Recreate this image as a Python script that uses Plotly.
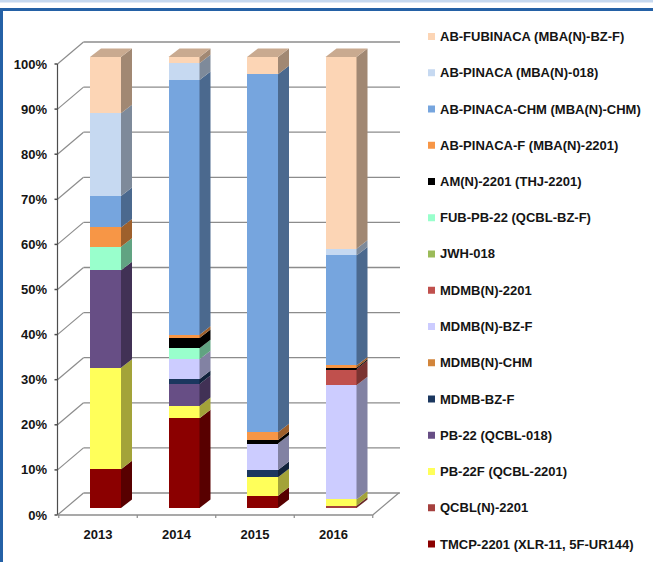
import plotly.graph_objects as go

# ---------------------------------------------------------------- data
years = ["2013", "2014", "2015", "2016"]

compounds = [
    "AB-FUBINACA (MBA(N)-BZ-F)",
    "AB-PINACA (MBA(N)-018)",
    "AB-PINACA-CHM (MBA(N)-CHM)",
    "AB-PINACA-F (MBA(N)-2201)",
    "AM(N)-2201 (THJ-2201)",
    "FUB-PB-22 (QCBL-BZ-F)",
    "JWH-018",
    "MDMB(N)-2201",
    "MDMB(N)-BZ-F",
    "MDMB(N)-CHM",
    "MDMB-BZ-F",
    "PB-22 (QCBL-018)",
    "PB-22F (QCBL-2201)",
    "QCBL(N)-2201",
    "TMCP-2201 (XLR-11, 5F-UR144)",
]

# share of each compound per year, in % (2013, 2014, 2015, 2016)
ab_fubinaca = [12.5, 1.4, 3.8, 42.5]
ab_pinaca = [18.3, 3.7, 0.0, 1.5]
ab_pinaca_chm = [7.0, 56.5, 79.4, 24.4]
ab_pinaca_f = [4.3, 0.7, 1.7, 0.5]
am_n_2201 = [0.0, 2.3, 0.8, 0.3]
fub_pb_22 = [5.2, 2.4, 0.0, 0.0]
jwh_018 = [0.0, 0.0, 0.0, 0.0]
mdmb_n_2201 = [0.0, 0.0, 0.0, 3.6]
mdmb_n_bz_f = [0.0, 4.4, 5.9, 25.3]
mdmb_n_chm = [0.0, 0.0, 0.0, 0.0]
mdmb_bz_f = [0.0, 1.1, 1.6, 0.0]
pb_22 = [21.6, 4.9, 0.0, 0.0]
pb_22f = [22.5, 2.7, 4.1, 1.4]
qcbl_n_2201 = [0.0, 0.0, 0.0, 0.5]
tmcp_2201 = [8.6, 19.9, 2.7, 0.0]

y_ticks = [0, 10, 20, 30, 40, 50, 60, 70, 80, 90, 100]
y_tick_labels = [f"{v}%" for v in y_ticks]

colors = [
    "#FCD5B5", "#C6D9F1", "#76A5DE", "#F79646", "#000000",
    "#99FFCC", "#9BBB59", "#C0504D", "#CCCCFF", "#D2853B",
    "#1B375F", "#674E85", "#FFFF5A", "#A5403E", "#8B0000",
]

shares = [
    ab_fubinaca, ab_pinaca, ab_pinaca_chm, ab_pinaca_f, am_n_2201,
    fub_pb_22, jwh_018, mdmb_n_2201, mdmb_n_bz_f, mdmb_n_chm,
    mdmb_bz_f, pb_22, pb_22f, qcbl_n_2201, tmcp_2201,
]

# ---------------------------------------------------------------- geometry
W, H = 653, 562
PL, PR, PT, PB = 48, 410, 25, 525          # plot area in pixels
SX = 78.5                                  # pixels per category
SY = 4.51                                  # pixels per percent
FRONT_X0, FRONT_Y0 = 98.0, 515.0           # front plane: first category / 0 %
BAR_DX, BAR_DY = 7.5, 7.0                  # bars sit a little behind the front plane
WALL_DX, WALL_DY = 26.0, 22.0              # back wall depth
SIDE_DX, SIDE_DY = 11.0, 8.5               # visible depth of each column
BAR_W = 31.0 / SX
AXIS_PX = 57.5                             # front vertical axis
WALL_RIGHT_PX = 400.0

BAR_X0 = FRONT_X0 + BAR_DX
BAR_Y0 = FRONT_Y0 - BAR_DY

x_range = [(PL - BAR_X0) / SX, (PR - BAR_X0) / SX]
y_range = [(BAR_Y0 - PB) / SY, (BAR_Y0 - PT) / SY]
x2_range = [v + BAR_DX / SX for v in x_range]
y2_range = [v + BAR_DY / SY for v in y_range]


def bx(px):
    return (px - BAR_X0) / SX


def front_y(v):
    return v - BAR_DY / SY


def wall_y(v):
    return front_y(v) + WALL_DY / SY


def front_x(c):
    return c - BAR_DX / SX


def paper_x(px):
    return (px - PL) / (PR - PL)


def paper_y(py):
    return (PB - py) / (PB - PT)


def shade(hex_color, f):
    h = hex_color.lstrip("#")
    r, g, b = (int(h[i:i + 2], 16) for i in (0, 2, 4))
    return "rgb({},{},{})".format(int(r * f), int(g * f), int(b * f))


xpos = list(range(len(years)))

fig = go.Figure()

# stacked columns: bottom of the stack is the last legend entry
for name, vals, col in reversed(list(zip(compounds, shares, colors))):
    fig.add_trace(go.Bar(
        x=xpos, y=vals, width=BAR_W, name=name,
        marker=dict(color=col, line=dict(width=0)),
        customdata=years, showlegend=False,
        hovertemplate="%{customdata}<br>" + name + ": %{y:.1f}%<extra></extra>",
    ))

# carrier for the front-plane axes (labels only)
fig.add_trace(go.Scatter(x=[0], y=[0], xaxis="x2", yaxis="y2", mode="markers",
                         marker=dict(opacity=0), hoverinfo="skip", showlegend=False))

shapes = []
GRID = "#8C8C8C"
AXIS = "#4D4D4D"

# back wall gridlines and the diagonals joining them to the front axis
wall_left = bx(AXIS_PX + WALL_DX)
for v in y_ticks:
    shapes.append(dict(type="line", xref="x", yref="y", layer="below",
                       x0=wall_left, x1=bx(WALL_RIGHT_PX), y0=wall_y(v), y1=wall_y(v),
                       line=dict(color=GRID, width=1.3)))
    shapes.append(dict(type="line", xref="x", yref="y", layer="below",
                       x0=bx(AXIS_PX), x1=wall_left, y0=front_y(v), y1=wall_y(v),
                       line=dict(color=GRID, width=1.2)))
    shapes.append(dict(type="line", xref="x", yref="y", layer="below",
                       x0=bx(AXIS_PX - 3), x1=bx(AXIS_PX), y0=front_y(v), y1=front_y(v),
                       line=dict(color=AXIS, width=1.5)))

# front vertical axis
shapes.append(dict(type="line", xref="x", yref="y", layer="below",
                   x0=bx(AXIS_PX), x1=bx(AXIS_PX), y0=front_y(0), y1=front_y(100),
                   line=dict(color=AXIS, width=1.2)))

# front floor edge with category separators and the right-hand depth edge
floor_end = front_x(len(years) - 0.5)
shapes.append(dict(type="line", xref="x", yref="y", layer="below",
                   x0=bx(AXIS_PX), x1=floor_end, y0=front_y(0), y1=front_y(0),
                   line=dict(color=GRID, width=1.3)))
shapes.append(dict(type="line", xref="x", yref="y", layer="below",
                   x0=floor_end, x1=floor_end + WALL_DX / SX, y0=front_y(0), y1=wall_y(0),
                   line=dict(color=GRID, width=1.2)))
for k in range(len(years) + 1):
    xb = front_x(k - 0.5)
    shapes.append(dict(type="line", xref="x", yref="y", layer="below",
                       x0=xb, x1=xb, y0=front_y(0), y1=front_y(0) - 3 / SY,
                       line=dict(color=GRID, width=1.2)))

# column depth: right-hand side of every segment and the lid of each column
ddx = SIDE_DX / SX
ddy = SIDE_DY / SY
stack = list(reversed(list(zip(shares, colors))))
for i in xpos:
    base = 0.0
    top_col = None
    for vals, col in stack:
        v = vals[i]
        if v <= 0:
            continue
        xr = i + BAR_W / 2
        path = "M{a},{b} L{c},{d} L{c},{e} L{a},{f} Z".format(
            a=xr, b=base, c=xr + ddx, d=base + ddy, e=base + v + ddy, f=base + v)
        shapes.append(dict(type="path", xref="x", yref="y", layer="above", path=path,
                           fillcolor=shade(col, 0.64), line=dict(width=0)))
        base += v
        top_col = col
    if top_col is not None:
        xl = i - BAR_W / 2
        xr = i + BAR_W / 2
        path = "M{a},{t} L{b},{t} L{c},{u} L{d},{u} Z".format(
            a=xl, b=xr, c=xr + ddx, d=xl + ddx, t=base, u=base + ddy)
        shapes.append(dict(type="path", xref="x", yref="y", layer="above", path=path,
                           fillcolor=shade(top_col, 0.8), line=dict(width=0)))

# outer frame
shapes.append(dict(type="rect", xref="paper", yref="paper", layer="above",
                   x0=paper_x(0), x1=paper_x(W), y0=paper_y(0), y1=paper_y(2.5),
                   fillcolor="#C5D8EF", line=dict(width=0)))
shapes.append(dict(type="rect", xref="paper", yref="paper", layer="above",
                   x0=paper_x(0), x1=paper_x(W), y0=paper_y(8), y1=paper_y(11),
                   fillcolor="#2461A6", line=dict(width=0)))
shapes.append(dict(type="rect", xref="paper", yref="paper", layer="above",
                   x0=paper_x(0), x1=paper_x(3), y0=paper_y(8), y1=paper_y(H),
                   fillcolor="#2461A6", line=dict(width=0)))

# legend
annotations = []
LEG_Y0, LEG_STEP = 36.5, 36.25
for k, (name, col) in enumerate(zip(compounds, colors)):
    cy = LEG_Y0 + LEG_STEP * k
    shapes.append(dict(type="rect", xref="paper", yref="paper", layer="above",
                       x0=paper_x(428), x1=paper_x(435), y0=paper_y(cy + 3.5), y1=paper_y(cy - 3.5),
                       fillcolor=col, line=dict(width=0)))
    annotations.append(dict(xref="paper", yref="paper", x=paper_x(438), y=paper_y(cy),
                            xanchor="left", yanchor="middle", showarrow=False, text=name,
                            font=dict(family="Liberation Sans", size=13, color="#141414",
                                      weight="bold")))

tick_font = dict(family="Liberation Sans", size=13, color="#141414", weight="bold")

fig.update_layout(
    width=W, height=H,
    margin=dict(l=PL, r=W - PR, t=PT, b=H - PB, pad=0),
    paper_bgcolor="white", plot_bgcolor="white",
    barmode="stack", bargap=0,
    showlegend=False,
    xaxis=dict(range=x_range, visible=False, fixedrange=True),
    yaxis=dict(range=y_range, visible=False, fixedrange=True),
    xaxis2=dict(overlaying="x", anchor="y2", side="bottom", range=x2_range,
                tickmode="array", tickvals=xpos, ticktext=years, ticks="",
                showgrid=False, zeroline=False, showline=False, tickfont=tick_font,
                fixedrange=True),
    yaxis2=dict(overlaying="y", anchor="x2", side="left", range=y2_range,
                tickmode="array", tickvals=y_ticks, ticktext=y_tick_labels, ticks="",
                showgrid=False, zeroline=False, showline=False, tickfont=tick_font,
                fixedrange=True),
    shapes=shapes,
    annotations=annotations,
)

fig.write_html("out.html")
